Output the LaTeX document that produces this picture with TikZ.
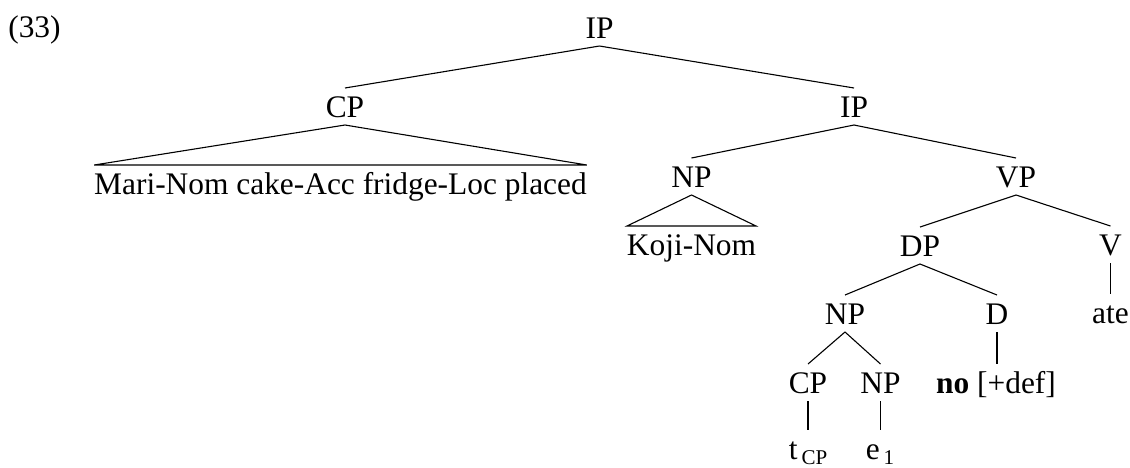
\documentclass[tikz,border=0pt]{standalone}
\usepackage{fontspec}
\setmainfont{Liberation Serif}
\newcommand{\sbx}[1]{\raisebox{-2.5pt}{\fontsize{10.5}{12}\selectfont #1}}
\begin{document}
\begin{tikzpicture}[x=0.5pt,y=-0.5pt,
  tn/.style={font=\fontsize{15.7}{18}\selectfont, inner sep=0pt, text height=11.5pt,
    text depth=1pt, outer ysep=3pt, outer xsep=0pt, anchor=base},
  br/.style={line width=0.55pt}]
\useasboundingbox (0,0) rectangle (1130,467);
\node[tn] (ex) at (34.5,37) {(33)};
\node[tn] (IP) at (599.5,38) {IP};
\node[tn] (CP) at (345,117) {CP};
\node[tn] (IPb) at (854,117) {IP};
\node[tn] (mari) at (340.5,194) {Mari-Nom cake-Acc fridge-Loc placed};
\node[tn] (NPk) at (691.5,187) {NP};
\node[tn] (VP) at (1016,187) {VP};
\node[tn] (koji) at (691.5,255) {Koji-Nom};
\node[tn] (DP) at (920,256) {DP};
\node[tn] (V) at (1110.5,255) {V};
\node[tn] (NPa) at (845,324) {NP};
\node[tn] (D) at (997,324) {D};
\node[tn] (ate) at (1110.5,323) {ate};
\node[tn] (CPb) at (808,393) {CP};
\node[tn] (NPb) at (880.5,393) {NP};
\node[tn] (no) at (996,393) {\textbf{no} [+def]};
\node[tn] (t) at (808,459) {t\hspace{2pt}\sbx{CP}};
\node[tn] (e) at (880,459) {e\hspace{2pt}\sbx{1}};
\draw[br] (IP.south) -- (CP.north);
\draw[br] (IP.south) -- (IPb.north);
\draw[br] (CP.south) -- (mari.north west) -- (mari.north east) -- cycle;
\draw[br] (IPb.south) -- (NPk.north);
\draw[br] (IPb.south) -- (VP.north);
\draw[br] (NPk.south) -- (koji.north west) -- (koji.north east) -- cycle;
\draw[br] (VP.south) -- (DP.north);
\draw[br] (VP.south) -- (V.north);
\draw[br] (V.south) -- (V.south |- ate.north);
\draw[br] (DP.south) -- (NPa.north);
\draw[br] (DP.south) -- (D.north);
\draw[br] (D.south) -- (D.south |- no.north);
\draw[br] (NPa.south) -- (CPb.north);
\draw[br] (NPa.south) -- (NPb.north);
\draw[br] (CPb.south) -- (CPb.south |- t.north);
\draw[br] (NPb.south) -- (NPb.south |- e.north);
\end{tikzpicture}
\end{document}
